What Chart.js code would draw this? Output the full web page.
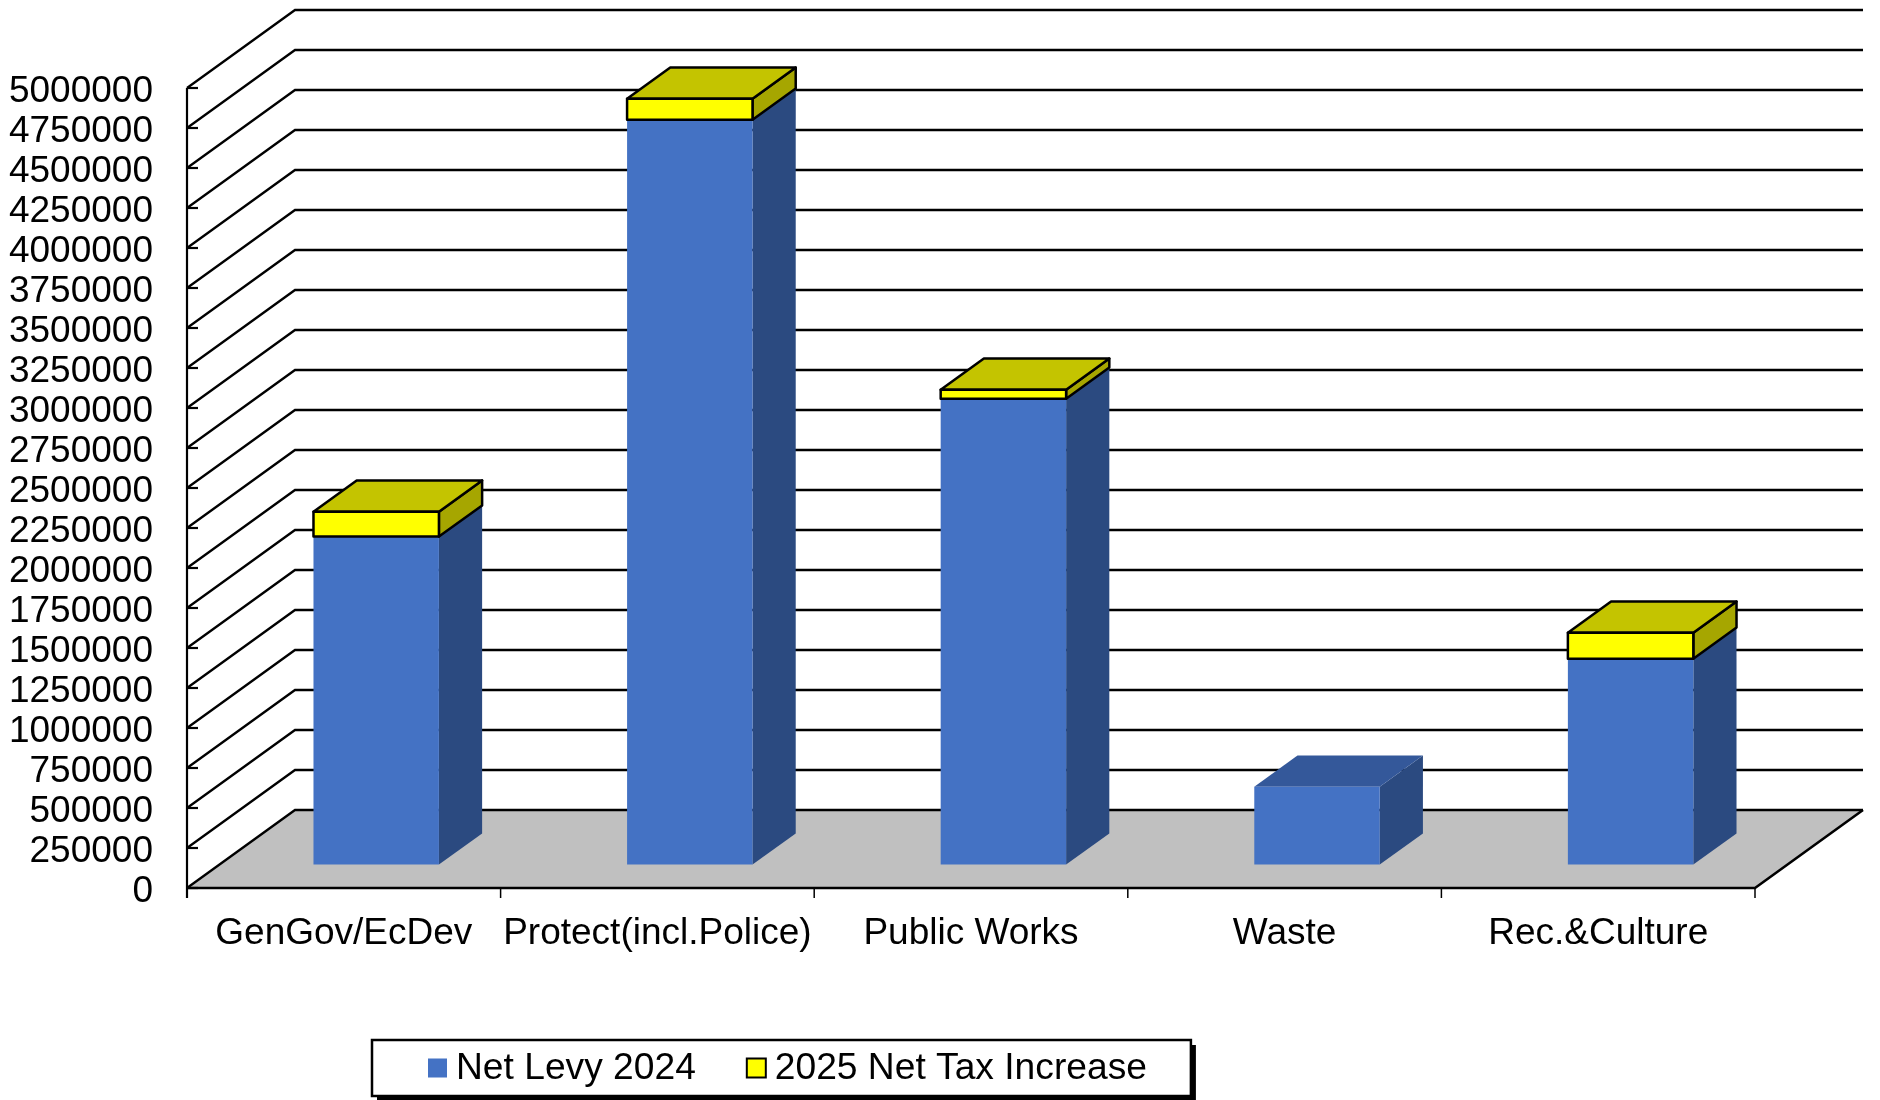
<!DOCTYPE html>
<html>
<head>
<meta charset="utf-8">
<script src="https://cdn.jsdelivr.net/npm/chart.js@4.4.1/dist/chart.umd.min.js"></script>
<style>
  html, body { margin: 0; padding: 0; background: #fff; }
  #wrap { width: 1880px; height: 1100px; }
</style>
</head>
<body>
<div id="wrap"><canvas id="levy" width="1880" height="1100"></canvas></div>
<script>
const categories = ['GenGov/EcDev', 'Protect(incl.Police)', 'Public Works', 'Waste', 'Rec.&Culture'];
const netLevy2024 = [2050000, 4656000, 2912000, 487000, 1287000];
const netTaxIncrease2025 = [156000, 131000, 56000, 0, 162000];
const seriesNames = ['Net Levy 2024', '2025 Net Tax Increase'];
const yMax = 5000000;
const yStep = 250000;

// colours of the three visible faces per series
const faces = [
  { front: '#4472C4', side: '#2B4A80', top: '#34589A', edge: null },
  { front: '#FFFF00', side: '#A6A600', top: '#C4C400', edge: '#000' }
];

// fake 3d: depth of the floor and where the bars sit inside it
const DX = 108, DY = -78;
const BAR_FRONT = 0.3, BAR_BACK = 0.7;

const FONT = '"Liberation Sans", Arial, sans-serif';
Chart.defaults.font.family = FONT;
Chart.defaults.font.size = 37;
Chart.defaults.color = '#000';

function poly(ctx, pts, fill, stroke) {
  ctx.beginPath();
  ctx.moveTo(pts[0][0], pts[0][1]);
  for (let i = 1; i < pts.length; i++) ctx.lineTo(pts[i][0], pts[i][1]);
  ctx.closePath();
  if (fill) { ctx.fillStyle = fill; ctx.fill(); }
  if (stroke) { ctx.strokeStyle = stroke; ctx.lineWidth = 2.5; ctx.lineJoin = 'round'; ctx.stroke(); }
}

function line(ctx, pts, w) {
  ctx.beginPath();
  ctx.moveTo(pts[0][0], pts[0][1]);
  for (let i = 1; i < pts.length; i++) ctx.lineTo(pts[i][0], pts[i][1]);
  ctx.lineWidth = w || 2;
  ctx.strokeStyle = '#000';
  ctx.stroke();
}

const walls = {
  id: 'walls',
  beforeDatasetsDraw(chart) {
    const ctx = chart.ctx, ca = chart.chartArea;
    const ys = chart.scales.y, xs = chart.scales.x;
    const y0 = ys.getPixelForValue(0);
    ctx.save();
    // floor
    poly(ctx, [[ca.left, y0], [ca.right, y0], [ca.right + DX, y0 + DY], [ca.left + DX, y0 + DY]], '#C0C0C0');
    // grid lines on side and back wall
    ys.ticks.forEach(t => {
      const y = ys.getPixelForValue(t.value);
      line(ctx, [[ca.left, y], [ca.left + DX, y + DY], [ca.right + DX, y + DY]], 2.3);
    });
    // floor edges
    line(ctx, [[ca.left, y0], [ca.right, y0], [ca.right + DX, y0 + DY]], 2.6);
    // value axis + inward ticks
    line(ctx, [[ca.left, ys.getPixelForValue(yMax)], [ca.left, y0 + 10]], 2.2);
    ys.ticks.forEach(t => {
      const y = ys.getPixelForValue(t.value);
      line(ctx, [[ca.left, y], [ca.left + 11, y]], 2.2);
    });
    // category boundary ticks
    const step = xs.getPixelForTick(1) - xs.getPixelForTick(0);
    for (let i = 0; i <= categories.length; i++) {
      const x = i < categories.length ? xs.getPixelForTick(i) - step / 2 : ca.right;
      line(ctx, [[x, y0], [x, y0 + 10]], 1.5);
    }

    // bars as boxes
    chart.data.datasets.forEach((ds, di) => {
      const meta = chart.getDatasetMeta(di);
      const c = faces[di];
      meta.data.forEach(bar => {
        const p = bar.getProps(['x', 'y', 'base', 'width'], true);
        if (Math.abs(p.base - p.y) < 0.5) return;
        const l = p.x - p.width / 2, r = p.x + p.width / 2;
        const fx = DX * BAR_FRONT, fy = DY * BAR_FRONT;
        const bx = DX * BAR_BACK, by = DY * BAR_BACK;
        poly(ctx, [[r + fx, p.y + fy], [r + bx, p.y + by], [r + bx, p.base + by], [r + fx, p.base + fy]], c.side, c.edge);
        poly(ctx, [[l + fx, p.y + fy], [r + fx, p.y + fy], [r + bx, p.y + by], [l + bx, p.y + by]], c.top, c.edge);
        poly(ctx, [[l + fx, p.y + fy], [r + fx, p.y + fy], [r + fx, p.base + fy], [l + fx, p.base + fy]], c.front, c.edge);
      });
    });
    ctx.restore();
    return false;
  }
};

const boxLegend = {
  id: 'boxLegend',
  afterDraw(chart) {
    const ctx = chart.ctx;
    const left = 372, top = 1040, h = 56, sw = 19;
    ctx.save();
    ctx.font = '37.2px ' + FONT;
    const items = chart.data.datasets.map((ds, i) => ({ text: ds.label, color: faces[i].front, edge: faces[i].edge }));
    let w = 56;
    items.forEach((it, i) => { w += sw + 9 + ctx.measureText(it.text).width + (i < items.length - 1 ? 51 : 44); });
    ctx.fillStyle = '#000';
    ctx.fillRect(left + 5, top + 5, w, h);
    ctx.fillStyle = '#fff';
    ctx.fillRect(left, top, w, h);
    ctx.strokeStyle = '#000';
    ctx.lineWidth = 2.5;
    ctx.strokeRect(left, top, w, h);
    let x = left + 56;
    const cy = top + h / 2;
    items.forEach(it => {
      ctx.fillStyle = it.color;
      ctx.fillRect(x, cy - sw / 2, sw, sw);
      if (it.edge) { ctx.strokeStyle = it.edge; ctx.lineWidth = 2; ctx.strokeRect(x, cy - sw / 2, sw, sw); }
      x += sw + 9;
      ctx.fillStyle = '#000';
      ctx.textBaseline = 'middle';
      ctx.fillText(it.text, x, cy + 1);
      x += ctx.measureText(it.text).width + 51;
    });
    ctx.restore();
  }
};

new Chart(document.getElementById('levy'), {
  type: 'bar',
  data: {
    labels: categories,
    datasets: [
      { label: seriesNames[0], data: netLevy2024, backgroundColor: faces[0].front, barPercentage: 0.4, categoryPercentage: 1 },
      { label: seriesNames[1], data: netTaxIncrease2025, backgroundColor: faces[1].front, barPercentage: 0.4, categoryPercentage: 1 }
    ]
  },
  options: {
    responsive: false,
    animation: false,
    layout: { padding: { top: 88, right: 125, left: 0, bottom: 0 } },
    plugins: { legend: { display: false }, tooltip: { enabled: false } },
    scales: {
      x: {
        stacked: true,
        grid: { display: false, drawTicks: false },
        border: { display: false },
        ticks: { padding: 24, autoSkip: false, maxRotation: 0 },
        afterFit: s => { s.height = 212; }
      },
      y: {
        stacked: true,
        min: 0,
        max: yMax,
        grid: { display: false, drawTicks: false },
        border: { display: false },
        ticks: { stepSize: yStep, maxTicksLimit: 21, autoSkip: false, padding: 34, labelOffset: 3.5, callback: v => String(v) },
        afterFit: s => { s.width = 187; }
      }
    }
  },
  plugins: [walls, boxLegend]
});
</script>
</body>
</html>
